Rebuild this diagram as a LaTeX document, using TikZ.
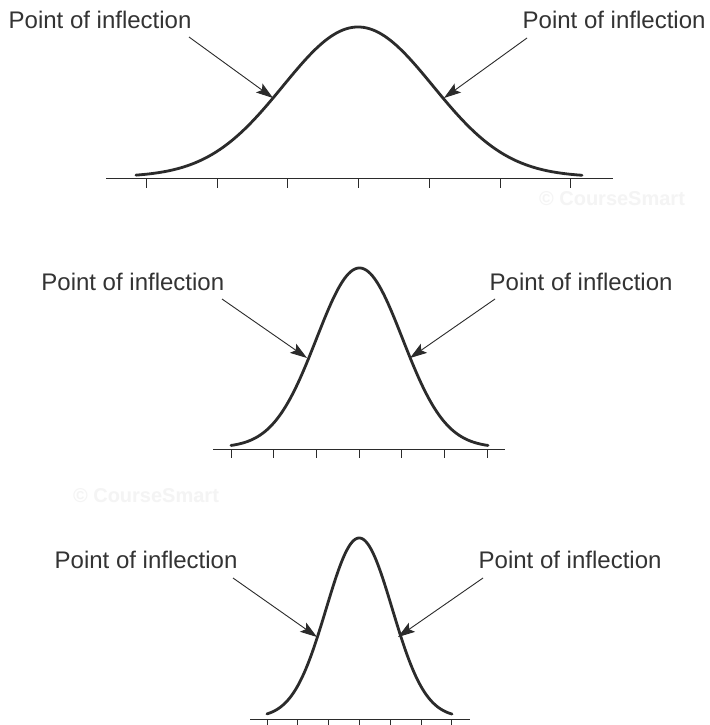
\documentclass[tikz,border=0pt]{standalone}
\usepackage{fontspec}
\setmainfont{Liberation Sans}
\usetikzlibrary{arrows.meta}
\definecolor{ink}{HTML}{2B2B2B}
\definecolor{txt}{HTML}{333333}
\definecolor{wm}{HTML}{F4F4F4}
\tikzset{
  curve/.style={draw=ink, line width=2.8pt, line cap=round},
  axisline/.style={draw=ink, line width=0.9pt},
  tickline/.style={draw=ink, line width=0.9pt},
  pointer/.style={draw=ink, line width=0.9pt, -{Stealth[length=17pt,width=11pt,inset=3.5pt]}},
  lbl/.style={anchor=base west, inner sep=0pt, text=txt, font=\fontsize{24}{29}\selectfont},
  wmark/.style={anchor=center, inner sep=0pt, text=wm, font=\bfseries\fontsize{20}{24}\selectfont}
}
\begin{document}
\begin{tikzpicture}[x=1pt, y=-1pt]
\useasboundingbox (0,0) rectangle (709,725);
\fill[white] (0,0) rectangle (709,725);

% watermarks
\node[wmark] (wm1) at (612,199) {© CourseSmart};
\node[wmark] (wm2) at (146,496) {© CourseSmart};

% ---------- Curve 1 ----------
\draw[axisline] (106,178.5) -- (613,178.5);
\foreach \k in {0,...,6} {
  \draw[tickline] ({146.5+70.7*\k},178.5) -- ({146.5+70.7*\k},188);
}
\draw[curve] plot[domain=136:582, samples=150, smooth] (\x,{177-150*exp(-((\x-358)/75)^2/2)});
\node[lbl] (l1) at (8.5,28.3) {Point of inflection};
\node[lbl] (r1) at (522.5,28.3) {Point of inflection};
\coordinate (l1s) at (189,37);
\coordinate (l1t) at (273,98);
\coordinate (r1s) at (527,38);
\coordinate (r1t) at (444,98);
\draw[pointer] (l1s) -- (l1t);
\draw[pointer] (r1s) -- (r1t);

% ---------- Curve 2 ----------
\draw[axisline] (213,449) -- (505,449);
\foreach \k in {0,...,6} {
  \draw[tickline] ({231+42.7*\k},449) -- ({231+42.7*\k},458);
}
\draw[curve] plot[domain=231:488, samples=150, smooth] (\x,{447.5-179.5*exp(-((\x-359.5)/43)^2/2)});
\node[lbl] (l2) at (41.2,290) {Point of inflection};
\node[lbl] (r2) at (489.5,290) {Point of inflection};
\coordinate (l2s) at (222,299);
\coordinate (l2t) at (307,358);
\coordinate (r2s) at (495,299);
\coordinate (r2t) at (410,358);
\draw[pointer] (l2s) -- (l2t);
\draw[pointer] (r2s) -- (r2t);

% ---------- Curve 3 ----------
\draw[axisline] (250,719) -- (470,719);
\foreach \k in {0,...,6} {
  \draw[tickline] ({267+30.8*\k},719) -- ({267+30.8*\k},727);
}
\draw[curve] plot[domain=267:452, samples=150, smooth] (\x,{717.5-179.5*exp(-((\x-359.2)/33)^2/2)});
\node[lbl] (l3) at (54.5,568) {Point of inflection};
\node[lbl] (r3) at (478.5,568) {Point of inflection};
\coordinate (l3s) at (233,578);
\coordinate (l3t) at (317,637);
\coordinate (r3s) at (483,578);
\coordinate (r3t) at (398,637);
\draw[pointer] (l3s) -- (l3t);
\draw[pointer] (r3s) -- (r3t);
\end{tikzpicture}
\end{document}
